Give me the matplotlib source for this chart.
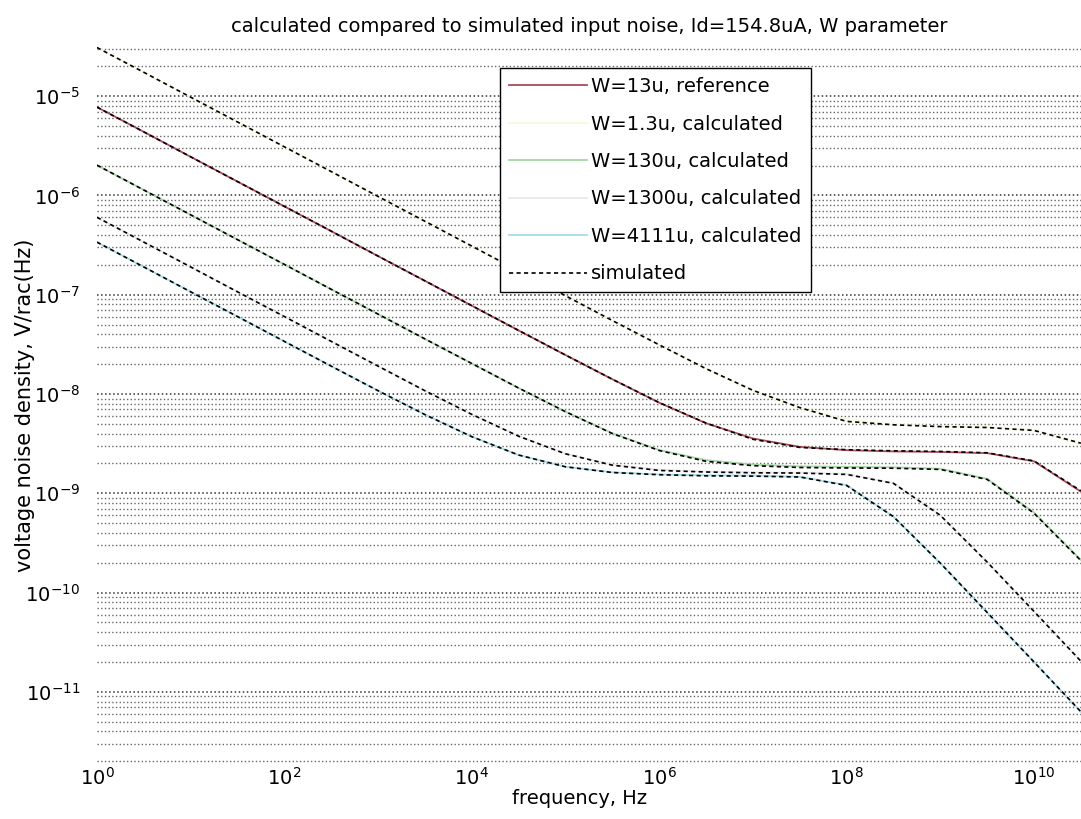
import matplotlib
matplotlib.use("Agg")
import matplotlib.pyplot as plt
from matplotlib.ticker import LogLocator, NullFormatter, NullLocator, LogFormatterMathtext

plt.rcParams['font.family'] = ['DejaVu Sans']
plt.rcParams['mathtext.fontset'] = 'dejavusans'

# frequency points, Hz (half decades)
freq = [1e0, 3.16e0, 1e1, 3.16e1, 1e2, 3.16e2, 1e3, 3.16e3, 1e4, 3.16e4, 1e5, 3.16e5,
        1e6, 3.16e6, 1e7, 3.16e7, 1e8, 3.16e8, 1e9, 3.16e9, 1e10, 3.16e10]

# calculated input noise, V/sqrt(Hz)
calc_w13 = [7.76e-6, 4.37e-6, 2.45e-6, 1.38e-6, 7.76e-7, 4.37e-7, 2.45e-7, 1.38e-7, 7.76e-8, 4.37e-8,
            2.47e-8, 1.41e-8, 8.18e-9, 5.08e-9, 3.57e-9, 2.94e-9, 2.72e-9, 2.64e-9, 2.61e-9, 2.54e-9,
            2.10e-9, 1.04e-9]
calc_w1p3 = [3.09e-5, 1.74e-5, 9.77e-6, 5.50e-6, 3.09e-6, 1.74e-6, 9.77e-7, 5.50e-7, 3.09e-7, 1.74e-7,
             9.77e-8, 5.50e-8, 3.13e-8, 1.80e-8, 1.08e-8, 7.19e-9, 5.58e-9, 4.95e-9, 4.74e-9, 4.65e-9,
             4.39e-9, 3.09e-9]
calc_w130 = [2.02e-6, 1.135e-6, 6.38e-7, 3.59e-7, 2.02e-7, 1.135e-7, 6.38e-8, 3.59e-8, 2.03e-8, 1.15e-8,
             6.64e-9, 4.03e-9, 2.73e-9, 2.16e-9, 1.95e-9, 1.87e-9, 1.85e-9, 1.83e-9, 1.77e-9, 1.40e-9,
             6.40e-10, 2.14e-10]
calc_w1300 = [6.03e-7, 3.39e-7, 1.905e-7, 1.07e-7, 6.03e-8, 3.39e-8, 1.91e-8, 1.08e-8, 6.24e-9, 3.76e-9,
              2.50e-9, 1.95e-9, 1.73e-9, 1.66e-9, 1.63e-9, 1.62e-9, 1.57e-9, 1.27e-9, 6.00e-10, 2.03e-10,
              6.46e-11, 2.04e-11]
calc_w4111 = [3.39e-7, 1.905e-7, 1.07e-7, 6.03e-8, 3.39e-8, 1.91e-8, 1.08e-8, 6.21e-9, 3.72e-9, 2.43e-9,
              1.85e-9, 1.63e-9, 1.55e-9, 1.52e-9, 1.51e-9, 1.47e-9, 1.21e-9, 5.82e-10, 1.98e-10, 6.31e-11,
              2.00e-11, 6.31e-12]

# simulated input noise, V/sqrt(Hz)
sim_w1p3 = [3.09e-5, 1.74e-5, 9.77e-6, 5.50e-6, 3.09e-6, 1.74e-6, 9.77e-7, 5.50e-7, 3.09e-7, 1.74e-7,
            9.77e-8, 5.50e-8, 3.13e-8, 1.80e-8, 1.09e-8, 7.30e-9, 5.30e-9, 4.90e-9, 4.70e-9, 4.60e-9,
            4.30e-9, 3.20e-9]
sim_w13 = [7.76e-6, 4.37e-6, 2.45e-6, 1.38e-6, 7.76e-7, 4.37e-7, 2.45e-7, 1.38e-7, 7.76e-8, 4.37e-8,
           2.47e-8, 1.41e-8, 8.20e-9, 5.10e-9, 3.50e-9, 2.90e-9, 2.75e-9, 2.68e-9, 2.64e-9, 2.56e-9,
           2.12e-9, 1.06e-9]
sim_w130 = [2.02e-6, 1.135e-6, 6.38e-7, 3.59e-7, 2.02e-7, 1.135e-7, 6.38e-8, 3.59e-8, 2.03e-8, 1.15e-8,
            6.64e-9, 4.00e-9, 2.70e-9, 2.10e-9, 1.90e-9, 1.82e-9, 1.80e-9, 1.79e-9, 1.74e-9, 1.38e-9,
            6.30e-10, 2.10e-10]
sim_w1300 = [6.03e-7, 3.39e-7, 1.905e-7, 1.07e-7, 6.03e-8, 3.39e-8, 1.91e-8, 1.08e-8, 6.24e-9, 3.76e-9,
             2.50e-9, 1.92e-9, 1.70e-9, 1.64e-9, 1.61e-9, 1.60e-9, 1.55e-9, 1.26e-9, 6.00e-10, 2.03e-10,
             6.46e-11, 2.04e-11]
sim_w4111 = [3.39e-7, 1.905e-7, 1.07e-7, 6.03e-8, 3.39e-8, 1.91e-8, 1.08e-8, 6.21e-9, 3.72e-9, 2.43e-9,
             1.85e-9, 1.62e-9, 1.54e-9, 1.50e-9, 1.49e-9, 1.46e-9, 1.20e-9, 5.82e-10, 1.98e-10, 6.31e-11,
             2.00e-11, 6.31e-12]

fig = plt.figure(figsize=(10.81, 8.19), dpi=100)
ax = fig.add_axes([0.0897, 0.0672, 0.9103, 0.8766])

ax.loglog(freq, calc_w13, color='#b04a5c', lw=1.3, label='W=13u, reference', zorder=2)
ax.loglog(freq, calc_w1p3, color='#f8f8dc', lw=1.3, label='W=1.3u, calculated', zorder=2)
ax.loglog(freq, calc_w130, color='#a6d6a6', lw=1.3, label='W=130u, calculated', zorder=2)
ax.loglog(freq, calc_w1300, color='#eee6ee', lw=1.3, label='W=1300u, calculated', zorder=2)
ax.loglog(freq, calc_w4111, color='#a4deea', lw=1.3, label='W=4111u, calculated', zorder=2)

sims = [sim_w1p3, sim_w13, sim_w130, sim_w1300, sim_w4111]
for i, s in enumerate(sims):
    ax.loglog(freq, s, color='black', lw=1.2, ls=(0, (2.5, 2)),
              label='simulated' if i == 0 else None, zorder=3)

ax.set_xlim(1, 3.17e10)
ax.set_ylim(1.88e-12, 3.2e-5)

ax.xaxis.set_major_locator(LogLocator(base=100.0, numticks=20))
ax.xaxis.set_minor_locator(NullLocator())
ax.xaxis.set_major_formatter(LogFormatterMathtext())
ax.yaxis.set_major_locator(LogLocator(base=10.0, numticks=20))
ax.yaxis.set_minor_locator(LogLocator(base=10.0, subs=[2, 3, 4, 5, 6, 7, 8, 9], numticks=100))
ax.yaxis.set_minor_formatter(NullFormatter())

ax.grid(True, axis='y', which='major', color='0.2', ls=':', lw=1.1)
ax.grid(True, axis='y', which='minor', color='0.4', ls=':', lw=1.0)
ax.tick_params(which='both', length=0, labelsize=14)
ax.tick_params(axis='y', pad=12)
ax.tick_params(axis='x', pad=2)
for sp in ax.spines.values():
    sp.set_visible(False)

ax.set_title('calculated compared to simulated input noise, Id=154.8uA, W parameter',
             fontsize=14, pad=10)
ax.set_xlabel('frequency, Hz', fontsize=14)
ax.set_ylabel('voltage noise density, V/rac(Hz)', fontsize=15)
ax.xaxis.set_label_coords(0.49, -0.035)
ax.yaxis.set_label_coords(-0.063, 0.5)

leg = ax.legend(loc='upper left', bbox_to_anchor=(0.4096, 0.969), fontsize=14,
                frameon=True, fancybox=False, edgecolor='black', framealpha=1.0,
                handlelength=4.0, handletextpad=0.25, labelspacing=0.95, borderpad=0.45,
                borderaxespad=0.0)
leg.get_frame().set_linewidth(1.0)

fig.savefig('out.png', dpi=100)
